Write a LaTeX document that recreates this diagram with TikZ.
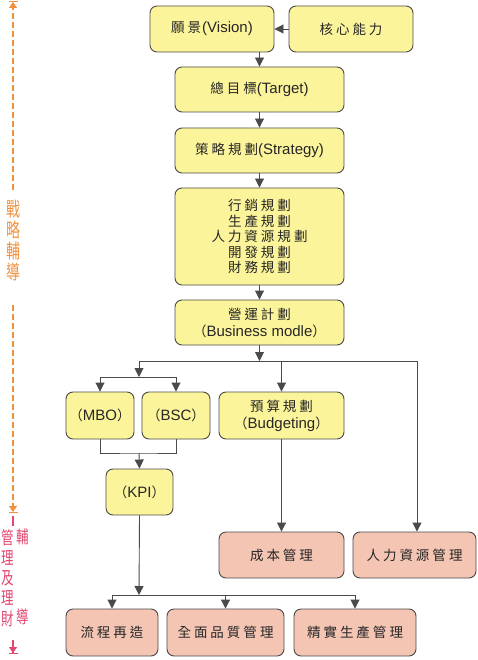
\documentclass[tikz,border=0pt]{standalone}
\usepackage{fontspec}
\setmainfont{Liberation Sans}
\newfontfamily\cjk{Noto Sans CJK TC}
\usetikzlibrary{arrows.meta}
\definecolor{yel}{HTML}{FCF49A}
\definecolor{pinkbox}{HTML}{F4C5B3}
\definecolor{edge}{HTML}{4A4A4A}
\definecolor{sideor}{HTML}{F0913F}
\definecolor{sidepk}{HTML}{E3466F}
\makeatletter
\newlength\cjkgap \setlength\cjkgap{3pt}
\def\cjk@end{\cjk@end}
\newcommand\cjks[1]{\cjk@a#1\cjk@end}
\def\cjk@a#1{#1\cjk@b}
\def\cjk@b#1{\ifx#1\cjk@end\else\hspace{\cjkgap}#1\expandafter\cjk@b\fi}
\makeatother
\newcommand\C[1]{{\cjk\fontsize{13.5}{16}\selectfont\cjks{#1}}}
\newcommand\LP{{\cjk\fontsize{13.5}{16}\selectfont （}}
\newcommand\RP{{\cjk\fontsize{13.5}{16}\selectfont ）}}
\newcommand\vs[1]{\scalebox{1}[1.4]{#1}}
\tikzset{
  box/.style={draw=edge, line width=0.9pt, rounded corners=7pt, fill=yel,
    align=center, inner sep=0pt, text=black!85,
    font=\fontsize{15}{17}\selectfont},
  pbox/.style={box, fill=pinkbox},
  conn/.style={draw=edge, line width=0.9pt},
  arr/.style={conn, -{Triangle[length=9pt,width=9pt]}},
  sidel/.style={line width=1.1pt, dash pattern=on 6pt off 3pt},
  sidetip/.style={-{Triangle[length=6pt,width=8pt]Bar[width=9pt,line width=1pt]}},
}
\begin{document}
\begin{tikzpicture}[x=1pt,y=-1pt]
\useasboundingbox (0,0) rectangle (478,660);
% boxes
\node[box, minimum width=124pt, minimum height=46pt] (vision) at (212,29) {\C{願景}\hspace{1pt}(Vision)};
\node[box, minimum width=124pt, minimum height=46pt] (core) at (351,29) {\C{核心能力}};
\node[box, minimum width=169pt, minimum height=45pt] (target) at (259.5,89.5) {\C{總目標}(Target)};
\node[box, minimum width=169pt, minimum height=45pt] (strategy) at (259.5,150.5) {\C{策略規劃}(Strategy)};
\node[box, minimum width=169pt, minimum height=97pt, font=\fontsize{13.5}{15.6}\selectfont] (plans) at (259.5,236.5)
  {\C{行銷規劃}\\\C{生產規劃}\\\C{人力資源規劃}\\\C{開發規劃}\\\C{財務規劃}};
\node[box, minimum width=169pt, minimum height=45pt] (business) at (259.5,322.5) {\C{營運計劃}\\\LP Business modle\RP};
\node[box, minimum width=68pt, minimum height=47pt] (mbo) at (100,415.5) {\LP MBO\RP};
\node[box, minimum width=68pt, minimum height=47pt] (bsc) at (176,415.5) {\LP BSC\RP};
\node[box, minimum width=125pt, minimum height=47pt] (budget) at (281.5,415.5) {\C{預算規劃}\\\LP Budgeting\RP};
\node[box, minimum width=67pt, minimum height=46pt] (kpi) at (139.5,492) {\LP KPI\RP};
\node[pbox, minimum width=125pt, minimum height=46pt] (cost) at (281.5,555) {\C{成本管理}};
\node[pbox, minimum width=123pt, minimum height=46pt] (hr) at (414.5,555) {\C{人力資源管理}};
\node[pbox, minimum width=92pt, minimum height=47pt] (flow) at (112,632.5) {\C{流程再造}};
\node[pbox, minimum width=117pt, minimum height=47pt] (tqm) at (225.5,632.5) {\C{全面品質管理}};
\node[pbox, minimum width=122pt, minimum height=47pt] (lean) at (355,632.5) {\C{精實生產管理}};
% connectors
\draw[arr] (core.west) -- (vision.east);
\draw[arr] (vision.south -| target.north) -- (target.north);
\draw[arr] (target.south) -- (strategy.north);
\draw[arr] (strategy.south) -- (plans.north);
\draw[arr] (plans.south) -- (business.north);
\coordinate (split) at (259.5,361);
\coordinate (sL) at (139,361);
\coordinate (sR) at (417,361);
\draw[arr] (business.south) -- (split);
\draw[conn] (sL) -- (sR);
\coordinate (fork) at (139,377);
\draw[arr] (sL) -- (fork);
\draw[conn] (mbo.north |- fork) -- (bsc.north |- fork);
\draw[arr] (mbo.north |- fork) -- (mbo.north);
\draw[arr] (bsc.north |- fork) -- (bsc.north);
\draw[arr] (budget.north |- sL) -- (budget.north);
\draw[arr] (sR) -- (sR |- hr.north);
\coordinate (merge) at (139,453);
\draw[conn] (mbo.south) |- (merge) -| (bsc.south);
\draw[arr] (merge) -- (kpi.north);
\draw[arr] (budget.south) -- (cost.north);
\coordinate (split2) at (139,595);
\draw[arr] (kpi.south) -- (split2);
\draw[conn] (flow.north |- split2) -- (lean.north |- split2);
\draw[arr] (flow.north |- split2) -- (flow.north);
\draw[arr] (tqm.north |- split2) -- (tqm.north);
\draw[arr] (lean.north |- split2) -- (lean.north);
% side bar
\coordinate (oTop) at (13,1);
\coordinate (oA) at (13,190);
\coordinate (oB) at (13,305);
\coordinate (oC) at (13,513);
\draw[sideor, sidel, sidetip] (oA) -- (oTop);
\draw[sideor, sidel, sidetip] (oB) -- (oC);
\node[text=sideor, align=center, inner sep=0pt, font=\cjk\fontsize{14}{21}\selectfont] (sideA) at (13,241)
  {\vs{戰}\\\vs{略}\\\vs{輔}\\\vs{導}};
\coordinate (pA) at (13,516);
\coordinate (pB) at (13,526);
\draw[sidepk, line width=1.1pt] (pA) -- (pB);
\coordinate (pC) at (13,640);
\coordinate (pD) at (13,654);
\draw[sidepk, line width=1.1pt, sidetip] (pC) -- (pD);
\node[text=sidepk, align=center, inner sep=0pt, font=\cjk\fontsize{12.5}{20.2}\selectfont] (sideB) at (7.5,578)
  {\vs{管}\\\vs{理}\\\vs{及}\\\vs{理}\\\vs{財}};
\node[text=sidepk, inner sep=0pt, font=\cjk\fontsize{12.5}{20}\selectfont] (sideC) at (23,537) {\vs{輔}};
\node[text=sidepk, inner sep=0pt, font=\cjk\fontsize{12.5}{20}\selectfont] (sideD) at (23,617) {\vs{導}};
\end{tikzpicture}
\end{document}
